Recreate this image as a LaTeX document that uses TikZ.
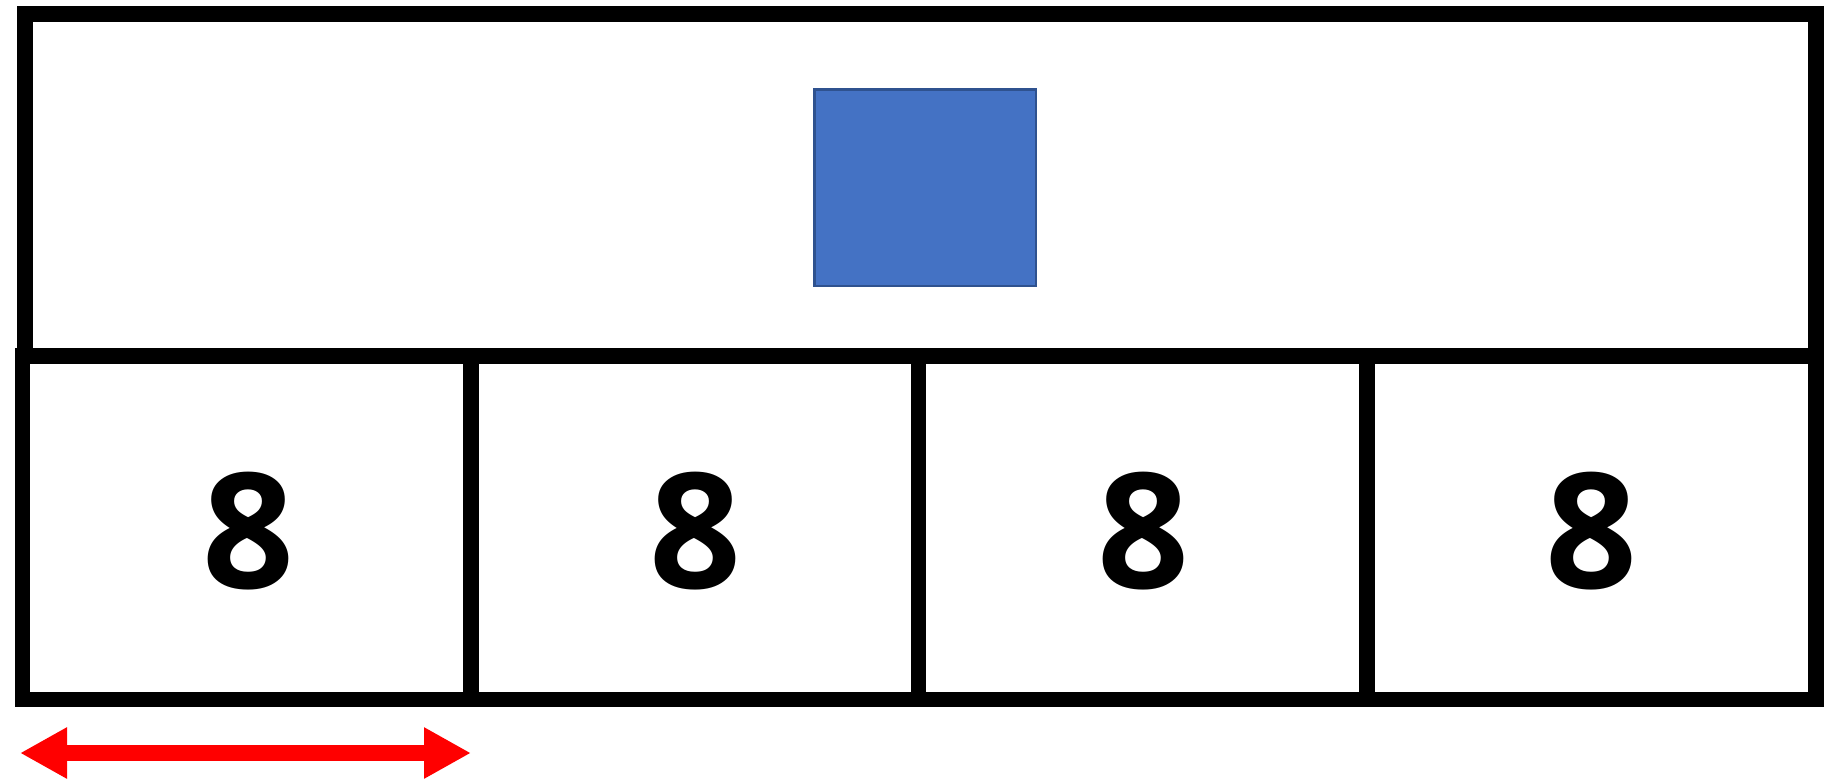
\documentclass[tikz,border=0pt]{standalone}
\usepackage{fontspec}
\setmainfont{Open Sans}
\usetikzlibrary{arrows.meta}
\definecolor{boxblue}{HTML}{4472C4}
\definecolor{boxblueedge}{HTML}{2F528F}
\tikzset{
  frame/.style={draw=black, line width=15.5pt, miter limit=10},
  digit/.style={font=\fontsize{161}{161}\selectfont\bfseries, inner sep=0pt, anchor=center},
  bluebox/.style={draw=boxblueedge, fill=boxblue, line width=2.5pt},
  redarrow/.style={draw=red, line width=16pt, {Triangle[length=47pt,width=48pt]}-{Triangle[length=47pt,width=48pt]}}
}
\begin{document}
\begin{tikzpicture}[x=1pt,y=-1pt]
\useasboundingbox (0,0) rectangle (1832,780);
% top box
\draw[frame] (25,14) rectangle (1816,356);
% blue rectangle
\node[bluebox, minimum width=221.5pt, minimum height=196.5pt, inner sep=0pt] (blue) at (925,187.5) {};
% lower cells
\draw[frame] (22.5,356) rectangle (1816,699.5);
\draw[frame] (471,356) -- (471,699.5);
\draw[frame] (918.5,356) -- (918.5,699.5);
\draw[frame] (1367,356) -- (1367,699.5);
\node[digit] (d1) at (248,531.5) {8};
\node[digit] (d2) at (695,531.5) {8};
\node[digit] (d3) at (1143,531.5) {8};
\node[digit] (d4) at (1591,531.5) {8};
% red double arrow
\coordinate (aL) at (20,753);
\coordinate (aR) at (471,753);
\draw[redarrow] (aL) -- (aR);
\end{tikzpicture}
\end{document}
